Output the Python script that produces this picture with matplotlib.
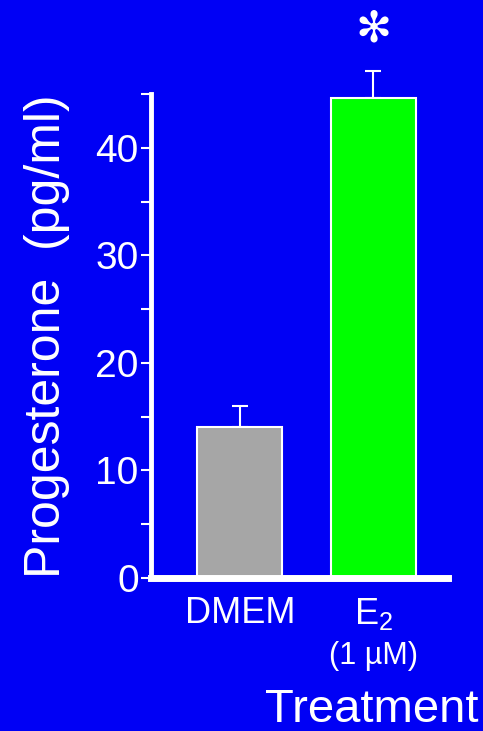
import numpy as np
import matplotlib.pyplot as plt

plt.rcParams['font.family'] = ['Liberation Sans', 'DejaVu Sans']

groups = ['DMEM', 'E$_\\mathregular{2}$']
doses = ['', '(1 µM)']
means = [14.0, 44.6]
errs = [2.0, 2.5]
bar_colors = ['#a6a6a6', '#00ff00']
yticks = [0, 10, 20, 30, 40]

bg = '#0000f5'
fig = plt.figure(figsize=(4.83, 7.31), dpi=100, facecolor=bg)
ax = fig.add_axes([0.313, 0.2093, 0.6145, 0.6621], facecolor=bg)

x = np.arange(len(means))
ax.bar(x, means, width=0.637, color=bar_colors, edgecolor='white', linewidth=1.5, zorder=2)
ax.errorbar(x, means, yerr=[np.zeros(len(errs)), errs], fmt='none', ecolor='white',
            elinewidth=1.5, capsize=6, capthick=1.5, zorder=1, clip_on=False)

ax.set_xlim(-0.665, 1.558)
ax.set_ylim(0, 45)
ax.set_yticks(yticks)
ax.set_yticks([5, 15, 25, 35, 45], minor=True)
ax.tick_params(axis='y', which='both', colors='white', length=7, width=1.5,
               labelsize=28, pad=2)
ax.set_xticks([])

for s in ['top', 'right']:
    ax.spines[s].set_visible(False)
ax.spines['left'].set_color('white')
ax.spines['left'].set_linewidth(3.5)
ax.spines['bottom'].set_color('white')
ax.spines['bottom'].set_linewidth(5)

ax.set_ylabel('Progesterone  (pg/ml)', color='white', fontsize=36, labelpad=18)

for xi, g, d in zip(x, groups, doses):
    ax.text(xi, -1.7, g, color='white', fontsize=26, ha='center', va='top')
    if d:
        ax.text(xi, -5.9, d, color='white', fontsize=22, ha='center', va='top')
fig.text(0.99, 0.012, 'Treatment', color='white', fontsize=34, ha='right', va='baseline')

ax.text(1, 51.0, '\u273b', color='white', fontsize=31, ha='center', va='center',
        family='DejaVu Sans', clip_on=False)

fig.savefig('out.png', dpi=100, facecolor=bg)
